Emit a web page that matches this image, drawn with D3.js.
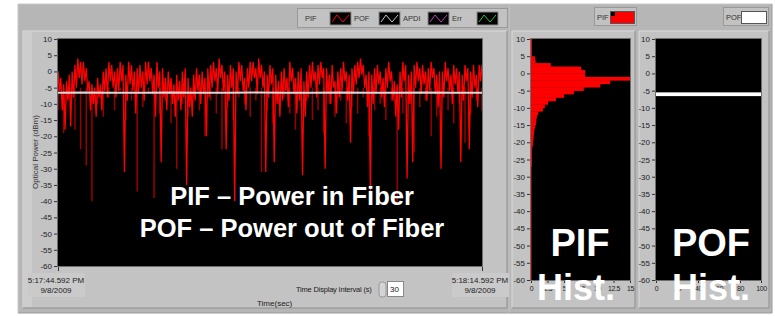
<!DOCTYPE html>
<html><head><meta charset="utf-8">
<script src="https://cdn.jsdelivr.net/npm/d3@7"></script>
<style>
html,body{margin:0;padding:0;background:#fff;}
svg{display:block;font-family:"Liberation Sans",Arial,sans-serif;}
.tk text{font-size:8px;fill:#222;}
.tk path{stroke:none;}
.tk line{stroke:#333;}
.hx text{font-size:7px;letter-spacing:-0.4px;}
</style></head>
<body>
<svg id="c" width="775" height="316"></svg>
<script>
// ---------- data ----------
const timeRange = [0, 30];
const timeStartLabel = ["5:17:44.592 PM", "9/8/2009"];
const timeEndLabel = ["5:18:14.592 PM", "9/8/2009"];
const yTicks = [-60,-55,-50,-45,-40,-35,-30,-25,-20,-15,-10,-5,0,5,10];
// PIF trace (dBm), max/min per 0.2 s interval
const pifUpper = [
 0,-2,-4,-3,-1,0,2,4,3,3,
 1,-3,-4,-5,-2,-4,0,1,3,2,
 0,1,3,2,-1,3,2,0,1,2,
 0,3,3,1,-1,3,0,1,-2,0,
 -2,-4,-1,-3,0,1,-2,-5,-1,1,
 -1,0,-2,1,2,3,1,4,2,0,
 -1,2,1,0,3,2,-2,1,3,3,
 1,4,2,0,-1,2,1,-1,-3,0,
 1,-2,3,1,-2,0,1,-3,0,2,
 3,0,2,3,1,1,-1,2,-3,0,
 1,3,0,-1,1,2,3,4,2,-1,
 0,-1,1,2,0,-2,1,3,0,-3,
 -4,0,3,2,-1,0,2,3,1,2,
 0,1,3,1,-1,0,0,3,1,-1,
 2,1,0,-1,2,1,0,2,-1,2,2
];
const pifLower = [
 -6,-12,-18,-9,-17,-8,-5,-2,-4,-3,
 -6,-12,-10,-14,-8,-12,-6,-8,-3,-5,
 -8,-6,-3,-31,-9,-4,-6,-13,-7,-5,
 -9,-4,-3,-7,-14,-5,-28,-8,-12,-7,
 -10,-14,-9,-12,-8,-35,-11,-14,-9,-6,
 -10,-7,-20,-8,-5,-3,-7,-2,-6,-24,
 -9,-5,-40,-7,-3,-6,-12,-5,-3,-2,
 -7,-2,-5,-31,-8,-4,-28,-10,-14,-9,
 -6,-11,-3,-7,-13,-9,-32,-14,-8,-5,
 -3,-8,-4,-2,-30,-7,-10,-5,-13,-8,
 -6,-3,-9,-22,-7,-4,-2,-1,-5,-11,
 -37,-10,-7,-4,-8,-11,-5,-3,-9,-14,
 -18,-8,-3,-33,-10,-28,-5,-3,-7,-4,
 -9,-6,-2,-7,-11,-30,-8,-3,-6,-10,
 -4,-7,-28,-9,-3,-24,-8,-5,-11,-3,-4
];
// PIF deep minima (dark red), one value every 0.4 s
const pifLow = [
 -12,-19,-8,-18,-24,-29,-40,-10,-14,-8,
 -12,-6,-15,-9,-37,-11,-7,-39,-13,-9,
 -16,-30,-10,-14,-8,-12,-20,-9,-13,-24,
 -11,-15,-8,-10,-14,-9,-31,-12,-16,-10,
 -8,-13,-18,-11,-9,-15,-12,-19,-10,-14,
 -9,-16,-11,-13,-8,-20,-12,-10,-15,-9,
 -41,-13,-10,-25,-11,-9,-20,-14,-8,-12,
 -16,-10,-22,-13,-9,-12
];
// POF trace (dBm), one value every 2 s
const pofMain = [-6.6,-6.5,-6.6,-6.6,-6.5,-6.6,-6.6,-6.5,-6.6,-6.6,-6.5,-6.6,-6.6,-6.5,-6.6,-6.6];
// PIF histogram: bin centres (dBm, 1 dB bins) and counts
const pifBins = d3.range(9.5, -60, -1);
const pifCounts = [
 0.15,0.15,0.15,0.15,0.15,0.6,0.7,3.0,7.6,8.2,
 8.2,15,12,10.5,8.0,6.5,5.0,3.8,2.6,2.1,
 1.8,1.1,0.9,0.8,0.75,0.6,0.5,0.45,0.4,0.35,
 0.3,0.2,0.15,0.15,0.15,0.15,0.15,0.08,0.08,0.08,
 0.08,0.08,0.08,0.08,0.08,0.08,0.08,0.08,0.08,0.08,
 0.08,0.08,0.08,0.08,0.08,0.08,0.08,0.08,0.08,0.08,
 0.08,0.08,0.08,0.08,0.08,0.08,0.08,0.08,0.08,0.08
];
const pifHistTicks = [0,2.5,5,7.5,10,12.5,15];
const pofBins = [-6];
const pofCounts = [100];
const pofHistTicks = [0,20,40,60,80,100];
const legendNames = ["PIF","POF","APDI","Err"];
const legendColors = ["#ff0000","#c8c8c8","#c040c0","#30c030"];

// ---------- layout ----------
const svg = d3.select("#c");
const fmt = d => String(d);

function panel(x,y,w,h,fill,light,dark){
  svg.append("rect").attr("x",x).attr("y",y).attr("width",w).attr("height",h).attr("fill",fill);
  svg.append("path").attr("d",`M${x},${y+h} V${y} H${x+w}`).attr("stroke",light).attr("fill","none");
  svg.append("path").attr("d",`M${x+w},${y} V${y+h} H${x}`).attr("stroke",dark).attr("fill","none");
}
panel(18,4,491,309,"#b6b6b6","#c8c8c8","#9a9a9a");
panel(509,4,263,309,"#b6b6b6","#c8c8c8","#9a9a9a");
panel(23,31,484,277,"#c3c3c3","#dcdcdc","#8e8e8e");
panel(512,31,123,277,"#c3c3c3","#dcdcdc","#8e8e8e");
panel(639,31,130,277,"#c3c3c3","#dcdcdc","#8e8e8e");
svg.append("rect").attr("x",24).attr("y",32).attr("width",8).attr("height",275).attr("fill","#cdcdcd");

// ---------- main chart ----------
const xM = d3.scaleLinear().domain(timeRange).range([58,482]);
const yM = d3.scaleLinear().domain([-60,10]).range([266,39]);
svg.append("rect").attr("x",58).attr("y",39).attr("width",424).attr("height",227).attr("fill","#000");
svg.append("defs").append("clipPath").attr("id","cm").append("rect").attr("x",58).attr("y",39).attr("width",424).attr("height",227);
const gM = svg.append("g").attr("clip-path","url(#cm)");
gM.selectAll("line.low").data(pifLow).join("line").attr("class","low")
  .attr("x1",(d,i)=>xM(i*0.4)).attr("x2",(d,i)=>xM(i*0.4))
  .attr("y1",yM(-5)).attr("y2",d=>yM(d))
  .attr("stroke","#9a0000").attr("stroke-width",1.5);
// interleave max / min of each interval into one trace
const pifTrace = pifUpper.flatMap((u,i)=>[{t:i*0.2, v:u},{t:i*0.2+0.1, v:pifLower[i]}]);
const lineT = d3.line().x(d=>xM(d.t)).y(d=>yM(d.v));
gM.append("path").datum(pifTrace).attr("d",lineT).attr("fill","none").attr("stroke","#ff0000").attr("stroke-width",1.3);
const linePof = d3.line().x((d,i)=>xM(i*2)).y(d=>yM(d));
gM.append("path").datum(pofMain).attr("d",linePof).attr("fill","none").attr("stroke","#d8d8d8").attr("stroke-width",2);
svg.append("rect").attr("x",57.5).attr("y",38.5).attr("width",425).attr("height",228).attr("fill","none").attr("stroke","#6e6e6e");

svg.append("g").attr("class","tk").attr("transform","translate(57,0)")
  .call(d3.axisLeft(yM).tickValues(yTicks).tickSize(3).tickPadding(2).tickFormat(fmt));
svg.append("g").attr("class","tk").attr("transform","translate(0,267)")
  .call(d3.axisBottom(xM).tickValues(timeRange).tickSize(4).tickFormat(""));

svg.append("text").attr("transform","translate(38,152) rotate(-90)").attr("text-anchor","middle")
  .attr("font-size",8).attr("fill","#333").text("Optical Power (dBm)");

[[timeStartLabel,56],[timeEndLabel,480]].forEach(([lab,cx])=>{
  svg.append("rect").attr("x",cx-28).attr("y",273).attr("width",57).attr("height",24).attr("fill","#cacaca");
  lab.forEach((t,i)=>svg.append("text").attr("x",cx).attr("y",283+i*10).attr("text-anchor","middle")
    .attr("font-size",8).attr("fill","#222").text(t));
});
svg.append("text").attr("x",296).attr("y",292).attr("font-size",7.5).attr("letter-spacing","-0.2px").attr("fill","#222").text("Time Display Interval (s)");
svg.append("rect").attr("x",379).attr("y",282).attr("width",7).attr("height",15).attr("rx",3).attr("fill","#d4d4d4").attr("stroke","#999");
svg.append("rect").attr("x",387.5).attr("y",281.5).attr("width",16).attr("height",15).attr("fill","#fff").attr("stroke","#888");
svg.append("text").attr("x",390).attr("y",292).attr("font-size",8).attr("fill","#111").text("30");
svg.append("text").attr("x",257).attr("y",306).attr("font-size",8).attr("fill","#222").text("Time(sec)");

svg.append("rect").attr("x",297.5).attr("y",8.5).attr("width",210).attr("height",19).attr("fill","#c2c2c2").attr("stroke","#999");
legendNames.forEach((n,i)=>{
  const x0 = 305 + i*49;
  svg.append("text").attr("x",x0).attr("y",21).attr("font-size",7.5).attr("fill","#333").text(n);
  const sx = x0 + 25;
  svg.append("rect").attr("x",sx).attr("y",12).attr("width",21).attr("height",13).attr("fill","#000").attr("stroke","#888");
  svg.append("path").attr("d",`M${sx+2},22 L${sx+7},15 L${sx+13},22 L${sx+19},15`)
    .attr("fill","none").attr("stroke",legendColors[i]).attr("stroke-width",1);
});

// ---------- histograms ----------
const yH = d3.scaleLinear().domain([-60,10]).range([280,39]);
function hist(x0,x1,xDom,ticks,bins,counts,color,id){
  const xs = d3.scaleLinear().domain(xDom).range([x0,x1]);
  svg.append("rect").attr("x",x0).attr("y",39).attr("width",x1-x0).attr("height",241).attr("fill","#000");
  svg.append("clipPath").attr("id",id).append("rect").attr("x",x0).attr("y",39).attr("width",x1-x0).attr("height",241);
  svg.append("g").attr("clip-path",`url(#${id})`).selectAll("rect").data(bins).join("rect")
    .attr("x",xs(0)).attr("y",d=>yH(d+0.5)).attr("height",d=>yH(d-0.5)-yH(d+0.5)+0.3)
    .attr("width",(d,i)=>xs(counts[i])-xs(0)).attr("fill",color);
  svg.append("rect").attr("x",x0-0.5).attr("y",38.5).attr("width",x1-x0+1).attr("height",242).attr("fill","none").attr("stroke","#6e6e6e");
  svg.append("g").attr("class","tk").attr("transform",`translate(${x0-1},0)`)
    .call(d3.axisLeft(yH).tickValues(yTicks).tickSize(3).tickPadding(2).tickFormat(fmt));
  svg.append("g").attr("class","tk hx").attr("transform","translate(0,281)")
    .call(d3.axisBottom(xs).tickValues(ticks).tickSize(2).tickPadding(3).tickFormat(fmt));
}
hist(531,630,[0,15],pifHistTicks,pifBins,pifCounts,"#ff0000","ch1");
hist(656,761,[0,100],pofHistTicks,pofBins,pofCounts,"#ffffff","ch2");

svg.append("rect").attr("x",594.5).attr("y",7.5).attr("width",42).attr("height",18).attr("fill","#c2c2c2").attr("stroke","#999");
svg.append("text").attr("x",597).attr("y",20).attr("font-size",7.5).attr("fill","#333").text("PIF");
svg.append("rect").attr("x",610.5).attr("y",11.5).attr("width",24).attr("height",12).attr("fill","#ff0000").attr("stroke","#555");
svg.append("rect").attr("x",611).attr("y",12).attr("width",4).attr("height",4).attr("fill","#000");
svg.append("rect").attr("x",723.5).attr("y",7.5).attr("width",45).attr("height",18).attr("fill","#c2c2c2").attr("stroke","#999");
svg.append("text").attr("x",726).attr("y",20).attr("font-size",7.5).attr("fill","#333").text("POF");
svg.append("rect").attr("x",741.5).attr("y",11.5).attr("width",25).attr("height",12).attr("fill","#ffffff").attr("stroke","#555");

const ov = svg.append("g").attr("fill","#fff").attr("font-weight","bold").attr("text-anchor","middle")
  .attr("font-family","'Liberation Sans',Arial,sans-serif");
ov.append("text").attr("x",292).attr("y",205).attr("font-size",25.5).text("PIF – Power in Fiber");
ov.append("text").attr("x",292).attr("y",237).attr("font-size",25.5).text("POF – Power out of Fiber");
ov.append("text").attr("x",580).attr("y",256).attr("font-size",38).text("PIF");
ov.append("text").attr("x",576).attr("y",300).attr("font-size",36).text("Hist.");
ov.append("text").attr("x",711).attr("y",256).attr("font-size",38).text("POF");
ov.append("text").attr("x",711).attr("y",300).attr("font-size",36).text("Hist.");
</script>
</body></html>
